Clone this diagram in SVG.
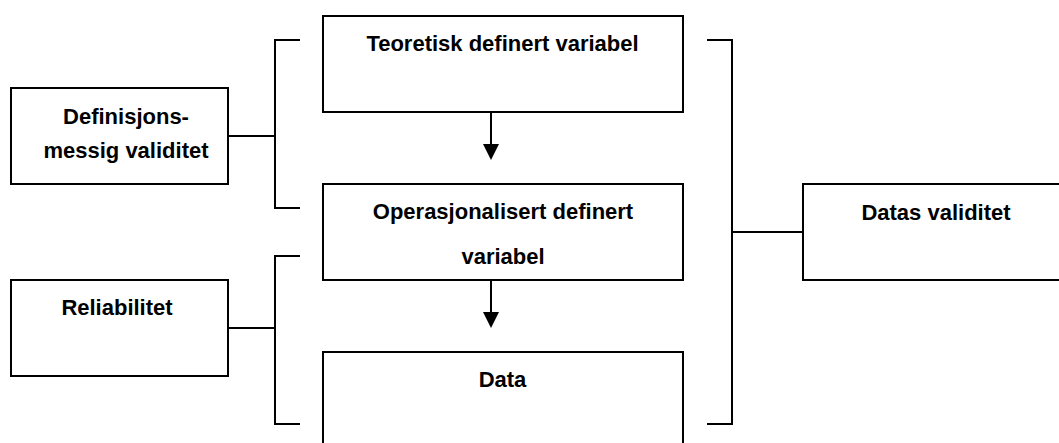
<svg xmlns="http://www.w3.org/2000/svg" width="1059" height="443" viewBox="0 0 1059 443">
<style>
.box{fill:#fff;stroke:#000;stroke-width:2}
.ln{fill:none;stroke:#000;stroke-width:2}
.t{font-family:"Liberation Sans",Arial,sans-serif;font-weight:bold;font-size:22px;fill:#000;text-anchor:middle}
</style>
<defs>
<marker id="ah" viewBox="0 0 16 16" refX="8" refY="16" markerUnits="userSpaceOnUse" markerWidth="16" markerHeight="16" orient="auto-start-reverse">
<path d="M0,0 L16,0 L8,16 Z" fill="#000"/>
</marker>
</defs>
<rect width="1059" height="443" fill="#fff"/>
<g id="connectors">
<path class="ln" d="M491,112 V144"/>
<path d="M483,144 H499 L491,160 Z" fill="#000"/>
<path class="ln" d="M491,280 V312"/>
<path d="M483,312 H499 L491,328 Z" fill="#000"/>
<path class="ln" d="M300,40 H275 V208 H300"/>
<path class="ln" d="M228,136 H275"/>
<path class="ln" d="M300,256 H275 V424 H300"/>
<path class="ln" d="M228,328 H275"/>
<path class="ln" d="M707,40 H732 V424 H707"/>
<path class="ln" d="M732,232 H803"/>
</g>
<g id="n-teoretisk">
<rect class="box" x="323" y="16" width="360" height="96"/>
<text class="t" x="502.5" y="51">Teoretisk definert variabel</text>
</g>
<g id="n-operasjonalisert">
<rect class="box" x="323" y="184" width="360" height="96"/>
<text class="t" x="503" y="219">Operasjonalisert definert</text>
<text class="t" x="503" y="264">variabel</text>
</g>
<g id="n-data">
<rect class="box" x="323" y="352" width="360" height="100"/>
<text class="t" x="502.5" y="387">Data</text>
</g>
<g id="n-definisjon">
<rect class="box" x="11" y="88" width="217" height="96"/>
<text class="t" x="126" y="124">Definisjons-</text>
<text class="t" x="126" y="158">messig validitet</text>
</g>
<g id="n-reliabilitet">
<rect class="box" x="11" y="280" width="217" height="96"/>
<text class="t" x="117" y="315">Reliabilitet</text>
</g>
<g id="n-datas">
<rect class="box" x="803" y="184" width="270" height="96"/>
<text class="t" x="936" y="220">Datas validitet</text>
</g>
</svg>
